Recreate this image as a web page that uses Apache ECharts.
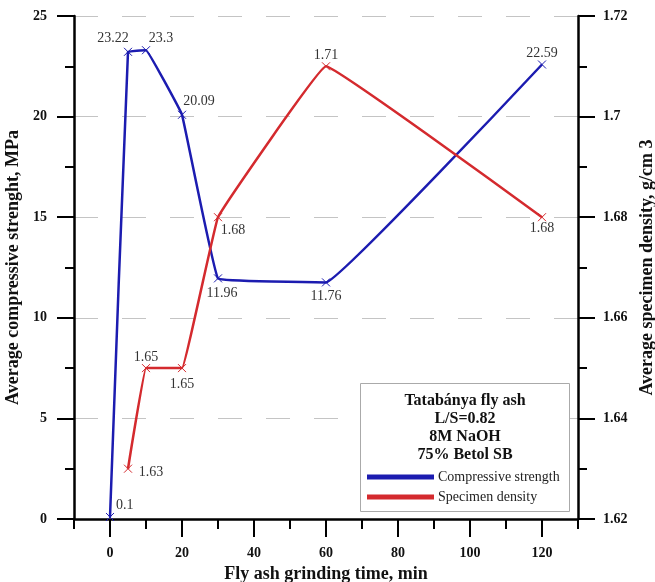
<!DOCTYPE html>
<html>
<head>
<meta charset="utf-8">
<script src="https://cdn.jsdelivr.net/npm/echarts@6/dist/echarts.min.js"></script>
<style>html,body{margin:0;padding:0;background:#fff}#c{width:655px;height:582px}</style>
</head>
<body>
<div id="c"></div>
<script>
const grindTime = [0, 5, 10, 20, 30, 60, 120];
const strength = [0.1, 23.22, 23.3, 20.09, 11.96, 11.76, 22.59];
const densityTime = [5, 10, 20, 30, 60, 120];
const density = [1.63, 1.65, 1.65, 1.68, 1.71, 1.68];
const xMajorTicks = [0, 20, 40, 60, 80, 100, 120];
const xMinorTicks = [-10, 10, 30, 50, 70, 90, 110, 130];
const legendTitle = ['Tatabánya fly ash', 'L/S=0.82', '8M NaOH', '75% Betol SB'];
const seriesNames = ['Compressive strength', 'Specimen density'];

// label placement (layout, not data): [dx, dy, align]
const strengthLabelPos = [[6,-12,'left'], [-15,-13,'center'], [15,-12,'center'], [17,-13,'center'], [4,15,'center'], [0,14,'center'], [0,-11,'center']];
const densityLabelPos = [[23,4,'center'], [0,-11,'center'], [0,16,'center'], [15,13,'center'], [0,-11,'center'], [0,11,'center']];

const FONT = '"Liberation Serif", "DejaVu Serif", serif';
const BLUE = '#1c1cb0';
const RED = '#d42a2e';
const X_SYM = 'path://M0,0L10,10M0,10L10,0';

function mkData(xs, ys, pos) {
  return xs.map((x, i) => ({
    value: [x, ys[i]],
    label: {
      show: true,
      formatter: String(ys[i]),
      position: ['50%', '50%'],
      offset: [pos[i][0], pos[i][1]],
      align: pos[i][2],
      verticalAlign: 'middle'
    }
  }));
}

const chart = echarts.init(document.getElementById('c'), null, {renderer: 'canvas'});
const tickLabelStyle = {color: '#111', fontFamily: FONT, fontWeight: 'bold', fontSize: 14};
const nameStyle = {color: '#111', fontFamily: FONT, fontWeight: 'bold', fontSize: 18};

const graphics = [{
  type: 'rect', left: 360, top: 383, z: 3,
  shape: {width: 209, height: 128},
  style: {fill: '#fff', stroke: '#aaa', lineWidth: 1}
}];
legendTitle.forEach((t, i) => {
  graphics.push({
    type: 'text', z: 5,
    style: {text: t, x: 465, y: 401 + i * 18, align: 'center', verticalAlign: 'middle', fill: '#111', font: 'bold 16px ' + FONT}
  });
});

chart.setOption({
  backgroundColor: '#fff',
  animation: false,
  textStyle: {fontFamily: FONT},
  grid: {left: 74, right: 77, top: 16, bottom: 63, containLabel: false, outerBoundsMode: 'none'},
  legend: {
    show: true, orient: 'vertical', left: 367, top: 470, itemGap: 6, padding: 0,
    itemWidth: 65, itemHeight: 3, icon: 'rect',
    data: seriesNames,
    textStyle: {color: '#222', fontFamily: FONT, fontSize: 14},
    z: 6
  },
  xAxis: [{
    type: 'value', min: -10, max: 130, interval: 10,
    name: 'Fly ash grinding time, min', nameLocation: 'middle', nameGap: 37,
    nameTextStyle: nameStyle,
    axisLine: {show: true, onZero: false, lineStyle: {color: '#000', width: 2.5}},
    axisTick: {show: true, customValues: xMajorTicks, length: 18, lineStyle: {color: '#000', width: 2}},
    axisLabel: {show: true, customValues: xMajorTicks, margin: 27, ...tickLabelStyle},
    splitLine: {show: false}
  }, {
    type: 'value', min: -10, max: 130, position: 'bottom',
    axisLine: {show: false},
    axisTick: {show: true, customValues: xMinorTicks, length: 10, lineStyle: {color: '#000', width: 2}},
    axisLabel: {show: false},
    splitLine: {show: false}
  }],
  yAxis: [{
    type: 'value', min: 0, max: 25, interval: 5, position: 'left',
    name: 'Average compressive strenght, MPa', nameLocation: 'middle', nameGap: 45, nameRotate: 90,
    nameTextStyle: nameStyle,
    axisLine: {show: true, onZero: false, lineStyle: {color: '#000', width: 2.5}},
    axisTick: {show: true, length: 17, lineStyle: {color: '#000', width: 2}},
    minorTick: {show: true, splitNumber: 2, length: 9, lineStyle: {color: '#000', width: 2}},
    axisLabel: {margin: 27, ...tickLabelStyle},
    splitLine: {show: true, lineStyle: {color: '#c4c4c4', width: 1, type: [24, 24]}}
  }, {
    type: 'value', min: 1.62, max: 1.72, interval: 0.02, position: 'right',
    name: 'Average specimen density, g/cm 3', nameLocation: 'middle', nameGap: 55, nameRotate: 90,
    nameTextStyle: nameStyle,
    axisLine: {show: true, onZero: false, lineStyle: {color: '#000', width: 2.5}},
    axisTick: {show: true, length: 17, lineStyle: {color: '#000', width: 2}},
    minorTick: {show: true, splitNumber: 2, length: 9, lineStyle: {color: '#000', width: 2}},
    axisLabel: {margin: 25, ...tickLabelStyle, formatter: v => String(+v.toFixed(2))},
    splitLine: {show: false}
  }],
  series: [{
    name: seriesNames[0], type: 'line', xAxisIndex: 0, yAxisIndex: 0,
    smooth: 0.05,
    data: mkData(grindTime, strength, strengthLabelPos),
    symbol: X_SYM, symbolSize: 8,
    itemStyle: {color: BLUE, borderColor: BLUE, borderWidth: 1},
    lineStyle: {color: BLUE, width: 2.5},
    label: {color: '#333', fontFamily: FONT, fontSize: 14},
    z: 2
  }, {
    name: seriesNames[1], type: 'line', xAxisIndex: 0, yAxisIndex: 1,
    smooth: 0.05,
    data: mkData(densityTime, density, densityLabelPos),
    symbol: X_SYM, symbolSize: 8,
    itemStyle: {color: RED, borderColor: RED, borderWidth: 1},
    lineStyle: {color: RED, width: 2.5},
    label: {color: '#333', fontFamily: FONT, fontSize: 14},
    z: 2
  }],
  graphic: graphics
});
</script>
</body>
</html>
